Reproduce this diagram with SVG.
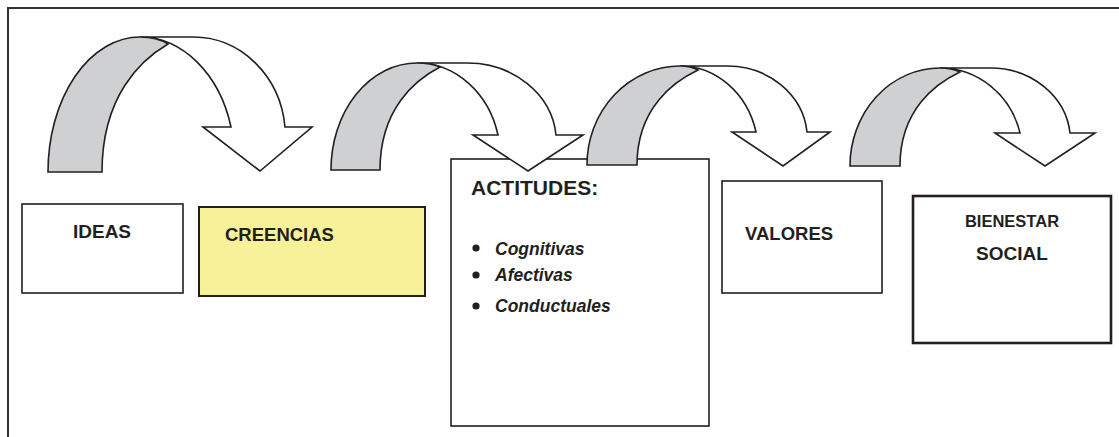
<svg xmlns="http://www.w3.org/2000/svg" width="1119" height="437" viewBox="0 0 1119 437">
<style>
.box{fill:#fff;stroke:#231f20;stroke-width:1.6}
.yel{fill:#f7f29a;stroke:#231f20;stroke-width:2}
.thick{fill:#fff;stroke:#231f20;stroke-width:2.6}
.t{font-family:"Liberation Sans",Arial,sans-serif;font-weight:bold;fill:#231f20}
.it{font-style:italic;font-size:17.5px}
.wh{fill:#fff;stroke:#231f20;stroke-width:1.6;stroke-linejoin:miter}
.gr{fill:#cfd0d2;stroke:#231f20;stroke-width:1.6}
</style>
<rect width="1119" height="437" fill="#fff"/>
<path d="M8,437 L8,8 L1119,8" fill="none" stroke="#333" stroke-width="2"/>

<g id="ideas">
<rect class="box" x="22" y="204" width="161" height="89"/>
<text class="t" x="102" y="238" font-size="19" text-anchor="middle">IDEAS</text>
</g>
<g id="creencias">
<rect class="yel" x="199" y="207" width="226" height="89"/>
<text class="t" x="225" y="241" font-size="18.5">CREENCIAS</text>
</g>
<g id="actitudes">
<rect class="box" x="451" y="159" width="258" height="267"/>
<text class="t" x="471" y="195" font-size="21">ACTITUDES:</text>
<circle cx="476" cy="248" r="3.6" fill="#231f20"/>
<circle cx="476" cy="275" r="3.6" fill="#231f20"/>
<circle cx="476" cy="306" r="3.6" fill="#231f20"/>
<text class="t it" x="495" y="255">Cognitivas</text>
<text class="t it" x="495" y="281">Afectivas</text>
<text class="t it" x="495" y="312">Conductuales</text>
</g>
<g id="valores">
<rect class="box" x="722" y="181" width="160" height="112"/>
<text class="t" x="745" y="240" font-size="18.5">VALORES</text>
</g>
<g id="bienestar">
<rect class="thick" x="913" y="196" width="198" height="147"/>
<text class="t" x="1012" y="227" font-size="16.5" text-anchor="middle">BIENESTAR</text>
<text class="t" x="1012" y="260" font-size="19" text-anchor="middle">SOCIAL</text>
</g>

<g id="connectors">
<g id="arrow1">
<path class="wh" d="M140,37 L193,37 A92,100 0 0 1 285,127 L312,127 L260,171 L203,127 L231,127 A94.5,123 0 0 0 140,37 Z"/>
<path class="gr" d="M48,172 A92,135 0 0 1 140,37 Q157,37 168,44 C141.6,59.4 102,95.2 102,172 Z"/>
</g>
<g id="arrow2">
<path class="wh" d="M417,63 L467,63 A89,79 0 0 1 556,135 L583,135 L528,171 L473,135 L498,135 A83.5,95 0 0 0 417,63 Z"/>
<path class="gr" d="M331,170 A86,107 0 0 1 417,63 Q431,63 440,67 C416,79.4 380,108.2 380,170 Z"/>
</g>
<g id="arrow3">
<path class="wh" d="M680,66 L727,66 A80,73 0 0 1 807,132 L830,132 L783,166 L732,132 L756,132 A78.3,87 0 0 0 680,66 Z"/>
<path class="gr" d="M587,165 A93,99 0 0 1 680,66 Q691,66 698,70 C673.8,81.4 637,108 637,165 Z"/>
</g>
<g id="arrow4">
<path class="wh" d="M940,68 L990,68 A80,72 0 0 1 1070,133 L1095,133 L1045,166 L995,133 L1020,133 A82.5,86 0 0 0 940,68 Z"/>
<path class="gr" d="M850,166 A90,98 0 0 1 940,68 Q952,68 960,72 C936,83.3 900,109.6 900,166 Z"/>
</g>
</g>
</svg>
